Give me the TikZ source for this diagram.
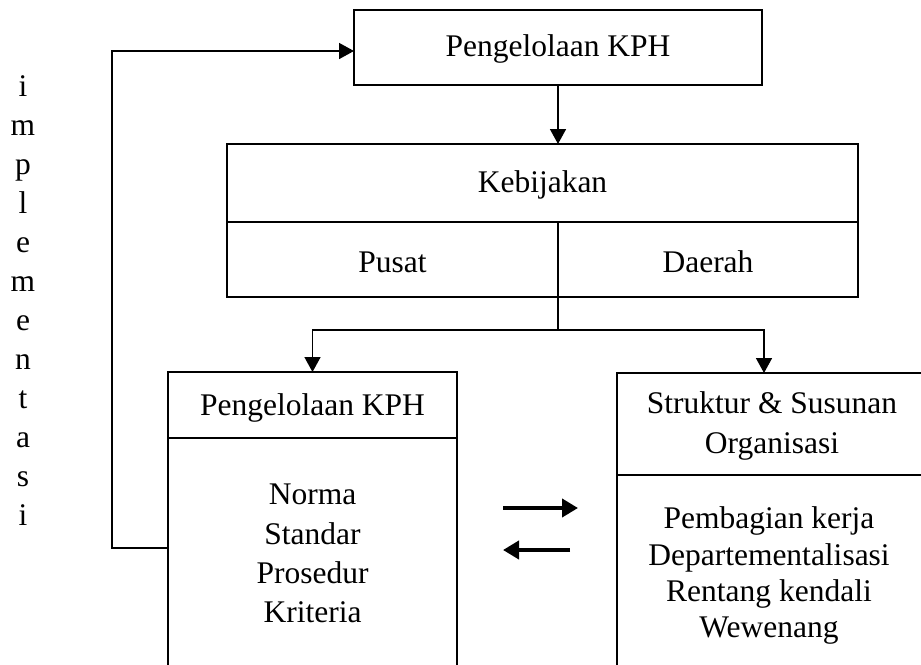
\documentclass[tikz,border=0pt]{standalone}
\usepackage{fontspec}
\setmainfont{Liberation Serif}
\usetikzlibrary{arrows.meta}
\begin{document}
\begin{tikzpicture}[x=1pt,y=-1pt,
  box/.style={draw, line width=1.6pt, rectangle, inner sep=0pt, outer sep=0pt},
  conn/.style={line width=1.6pt},
  arr/.style={line width=1.6pt,-{Triangle[width=16pt,length=15pt]}},
  bigarr/.style={line width=4.5pt,-{Triangle[width=18pt,length=16pt]}},
  txt/.style={anchor=base, inner sep=0pt, font=\fontsize{31.5}{36}\selectfont},
]
\clip (0,0) rectangle (921,664);
\fill[white] (0,0) rectangle (921,664);
% boxes
\node[box, minimum width=408pt, minimum height=75pt] (top) at (558,47.5) {};
\node[box, minimum width=631pt, minimum height=78pt] (kebij) at (542.5,183) {};
\node[box, minimum width=331pt, minimum height=75pt] (pusat) at (392.5,259.5) {};
\node[box, minimum width=300pt, minimum height=75pt] (daerah) at (708,259.5) {};
\node[box, minimum width=289pt, minimum height=66pt] (lhead) at (312.5,405) {};
\node[box, minimum width=289pt, minimum height=300pt] (lbody) at (312.5,588) {};
\node[box, minimum width=320pt, minimum height=102pt] (rhead) at (777,424) {};
\node[box, minimum width=320pt, minimum height=300pt] (rbody) at (777,625) {};
% connectors
\draw[arr] (top.south) -- (top.south |- kebij.north);
\coordinate (split) at (558,330);
\coordinate (rtop) at (764,373);
\draw[conn] (pusat.south east) -- (split);
\draw[arr] (split) -| (lhead.north);
\draw[arr] (split) -| (rtop);
\coordinate (fb) at (168,548);
\draw[arr] (fb) -- ++(-56,0) |- ([yshift=-3.5pt]top.west);
\coordinate (r1) at (503,508);
\coordinate (r2) at (578,508);
\coordinate (l1) at (570,550);
\coordinate (l2) at (503,550);
\draw[bigarr] (r1) -- (r2);
\draw[bigarr] (l1) -- (l2);
% texts
\node[txt] (t1) at (558,56) {Pengelolaan KPH};
\node[txt] (t2) at (542.5,192) {Kebijakan};
\node[txt] (t3) at (392.5,272) {Pusat};
\node[txt] (t4) at (708,272) {Daerah};
\node[txt] (t5) at (312.5,415) {Pengelolaan KPH};
\node[txt] (t6) at (312.5,504) {Norma};
\node[txt] (t7) at (312.5,544) {Standar};
\node[txt] (t8) at (312.5,583) {Prosedur};
\node[txt] (t9) at (312.5,622) {Kriteria};
\node[txt] (t10) at (772,413) {Struktur \& Susunan};
\node[txt] (t11) at (772,453) {Organisasi};
\node[txt] (t12) at (769,528) {Pembagian kerja};
\node[txt] (t13) at (769,565) {Departementalisasi};
\node[txt] (t14) at (769,601) {Rentang kendali};
\node[txt] (t15) at (769,637) {Wewenang};
% vertical word
\foreach \ch [count=\k from 0] in {i,m,p,l,e,m,e,n,t,a,s,i}
  \node[txt] (v\k) at (23,{96+39*\k}) {\ch};
\end{tikzpicture}
\end{document}
